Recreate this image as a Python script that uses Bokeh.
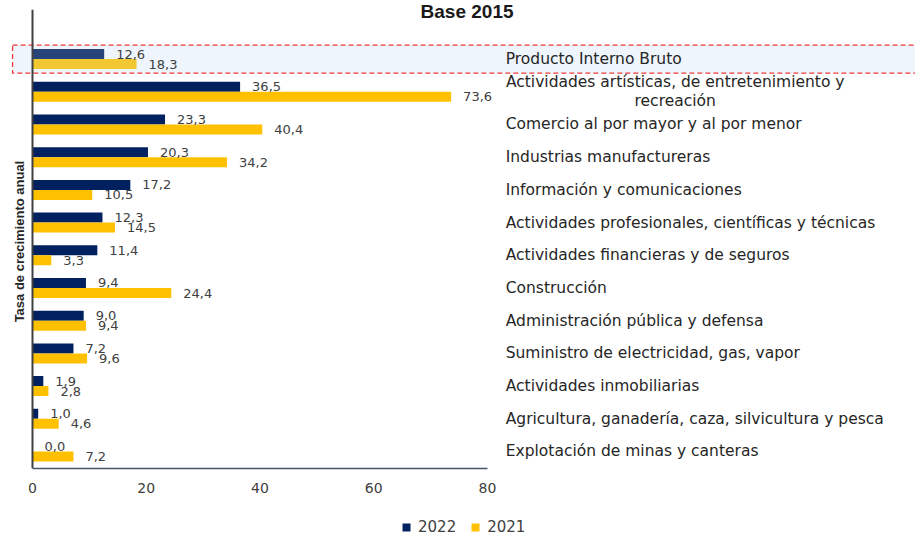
import math
from bokeh.plotting import figure
from bokeh.layouts import column
from bokeh.models import (ColumnDataSource, Range1d, FixedTicker, Legend, LegendItem)
from bokeh.core.properties import value
from bokeh.embed import file_html
from bokeh.resources import INLINE

# ---- data ----
categories = [
    "Producto Interno Bruto",
    "Actividades artísticas, de entretenimiento y\nrecreación",
    "Comercio al por mayor y al por menor",
    "Industrias manufactureras",
    "Información y comunicaciones",
    "Actividades profesionales, científicas y técnicas",
    "Actividades financieras y de seguros",
    "Construcción",
    "Administración pública y defensa",
    "Suministro de electricidad, gas, vapor",
    "Actividades inmobiliarias",
    "Agricultura, ganadería, caza, silvicultura y pesca",
    "Explotación de minas y canteras",
]
values_2022 = [12.6, 36.5, 23.3, 20.3, 17.2, 12.3, 11.4, 9.4, 9.0, 7.2, 1.9, 1.0, 0.0]
values_2021 = [18.3, 73.6, 40.4, 34.2, 10.5, 14.5, 3.3, 24.4, 9.4, 9.6, 2.8, 4.6, 7.2]
series_names = ["2022", "2021"]
x_ticks = [0, 20, 40, 60, 80]
title_text = "Base 2015"
y_title = "Tasa de crecimiento anual"

NAVY = "#002060"
GOLD = "#FFC000"
NAVY_HL = "#26447A"
GOLD_HL = "#F2C832"
TXT = "#404040"
FONT = "DejaVu Sans"

n = len(categories)
pos = [-i for i in range(n)]
off = 0.153
bh = 0.306
Y_TOP = 1.792
Y_BOT = -12.52

def fmt(v):
    return f"{v:.1f}".replace(".", ",")

p = figure(width=915, height=500, output_backend="svg", toolbar_location=None,
           x_range=Range1d(-3.868, 155.25), y_range=Range1d(Y_BOT, Y_TOP),
           y_axis_location=None, min_border_left=10, min_border_right=0,
           min_border_top=0, min_border_bottom=32)
p.outline_line_color = None
p.xgrid.visible = False
p.ygrid.visible = False
p.background_fill_color = "white"
p.border_fill_color = "white"

# highlight box for PIB
p.quad(left=-3.5, right=170, top=pos[0] + 0.43, bottom=pos[0] - 0.43,
       fill_color="#EEF5FC", line_color="#F03A3A", line_dash="5 3", line_width=1.3)

# bars (rows other than PIB)
src22 = ColumnDataSource(dict(y=[q + off for q in pos[1:]], v=values_2022[1:],
                              t=[fmt(v) for v in values_2022[1:]]))
src21 = ColumnDataSource(dict(y=[q - off for q in pos[1:]], v=values_2021[1:],
                              t=[fmt(v) for v in values_2021[1:]]))
p.hbar(y="y", right="v", left=0, height=bh, source=src22, fill_color=NAVY, line_color=None)
p.hbar(y="y", right="v", left=0, height=bh, source=src21, fill_color=GOLD, line_color=None)

# PIB bars
srcp22 = ColumnDataSource(dict(y=[pos[0] + off], v=[values_2022[0]], t=[fmt(values_2022[0])]))
srcp21 = ColumnDataSource(dict(y=[pos[0] - off], v=[values_2021[0]], t=[fmt(values_2021[0])]))
p.hbar(y="y", right="v", left=0, height=bh, source=srcp22, fill_color=NAVY_HL, line_color=None)
p.hbar(y="y", right="v", left=0, height=bh, source=srcp21, fill_color=GOLD_HL, line_color=None)

# value labels
for s in (src22, src21, srcp22, srcp21):
    p.text(x="v", y="y", text="t", source=s, x_offset=12, text_baseline="middle",
           text_align="left", text_font=value(FONT), text_font_size="13px", text_color=TXT)

# category labels
single = [(c, q) for c, q in zip(categories, pos) if "\n" not in c]
multi = [(c, q) for c, q in zip(categories, pos) if "\n" in c]
p.text(x=[83.2] * len(single), y=[q for _, q in single], text=[c for c, _ in single],
       text_baseline="middle", text_align="left", text_font=value(FONT),
       text_font_size="15.5px", text_color="#262626")
p.text(x=[113.0] * len(multi), y=[q for _, q in multi], text=[c for c, _ in multi],
       text_baseline="middle", text_align="center", text_font=value(FONT),
       text_font_size="15.5px", text_color="#262626", text_line_height=1.05)

# y title (rotated)
p.text(x=[-2.37], y=[-5.58], text=[y_title], angle=math.pi / 2, text_align="center",
       text_baseline="middle", text_font=value("Liberation Sans"),
       text_font_style="bold", text_font_size="13px", text_color="#262626")

# chart title
p.text(x=[76.4], y=[Y_TOP], text=[title_text], text_align="center",
       text_baseline="top", text_font=value("Liberation Sans"),
       text_font_style="bold", text_font_size="19px", text_color="#1a1a1a")

# left axis line
p.segment(x0=[0], y0=[Y_BOT], x1=[0], y1=[Y_TOP - 9.3 / 32.7],
          line_color="#404040", line_width=2)

# x axis
ax = p.xaxis[0]
ax.ticker = FixedTicker(ticks=x_ticks)
ax.bounds = (0, 80)
ax.axis_line_color = "#44546A"
ax.axis_line_width = 1.5
ax.major_tick_line_color = None
ax.minor_tick_line_color = None
ax.major_label_standoff = 8
ax.major_label_text_font = FONT
ax.major_label_text_font_size = "14px"
ax.major_label_text_color = TXT

# legend strip below the chart (proxy bars lie outside the visible range)
p2 = figure(width=915, height=36, output_backend="svg", toolbar_location=None,
            x_range=Range1d(0, 1), y_range=Range1d(0, 1),
            x_axis_location=None, y_axis_location=None,
            min_border_left=0, min_border_right=0, min_border_top=0, min_border_bottom=0)
p2.outline_line_color = None
p2.xgrid.visible = False
p2.ygrid.visible = False
l22 = p2.hbar(y=[-5], right=[-4], left=[-5], height=0.1, fill_color=NAVY, line_color=None)
l21 = p2.hbar(y=[-5], right=[-4], left=[-5], height=0.1, fill_color=GOLD, line_color=None)
legend = Legend(items=[LegendItem(label=series_names[0], renderers=[l22]),
                       LegendItem(label=series_names[1], renderers=[l21])],
                orientation="horizontal", location=(391, 0),
                glyph_width=10, glyph_height=10, label_standoff=7, spacing=14,
                padding=0, margin=0, label_height=14,
                border_line_color=None, background_fill_alpha=0,
                label_text_font=FONT, label_text_font_size="15px", label_text_color=TXT)
p2.add_layout(legend, "center")

open("out.html", "w").write(file_html(column(p, p2, spacing=0), INLINE))
